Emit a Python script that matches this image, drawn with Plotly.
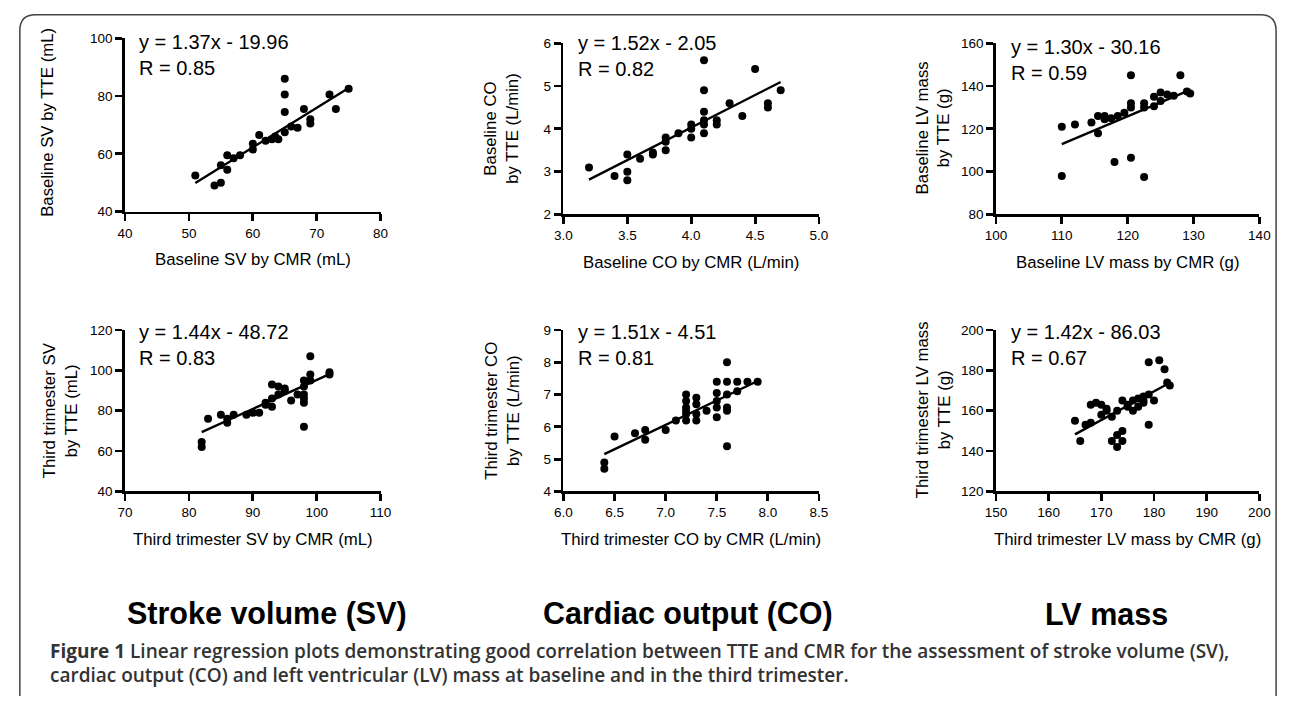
import plotly.graph_objects as go

W, H = 1292, 704

# ---------------- data ----------------
sv_base_cmr = [51, 54, 55, 56, 55, 56, 57, 58, 60, 60, 61, 62, 63, 63.5, 64, 65, 65, 65, 65, 66, 67, 68, 69, 69, 72, 73, 75]
sv_base_tte = [52.5, 49, 50, 59.5, 56, 54.5, 58.5, 59.5, 63.5, 61.5, 66.5, 64.5, 65, 66, 65, 67.5, 74.5, 80.5, 86, 69.5, 69, 75.5, 72, 70.5, 80.5, 75.5, 82.5]

co_base_cmr = [3.2, 3.4, 3.5, 3.5, 3.5, 3.6, 3.7, 3.7, 3.8, 3.8, 3.8, 3.9, 4.0, 4.0, 4.0, 4.1, 4.1, 4.1, 4.1, 4.1, 4.1, 4.2, 4.2, 4.3, 4.4, 4.5, 4.6, 4.6, 4.7]
co_base_tte = [3.1, 2.9, 3.4, 3.0, 2.8, 3.3, 3.4, 3.45, 3.5, 3.7, 3.8, 3.9, 3.8, 4.0, 4.1, 5.6, 4.9, 4.4, 4.2, 4.1, 3.9, 4.2, 4.1, 4.6, 4.3, 5.4, 4.6, 4.5, 4.9]

lv_base_cmr = [110, 110, 112, 114.5, 115.5, 115.5, 116.5, 116.5, 117.5, 118.5, 118, 119.5, 120.5, 120.5, 120.5, 120.5, 122.5, 122.5, 122.5, 124, 124, 125, 125, 126, 127, 128, 129, 129.5]
lv_base_tte = [121, 98, 122, 123, 126, 118, 126, 124.5, 125, 126, 104.5, 127.5, 145, 132, 130, 106.5, 132, 130, 97.5, 130.5, 135, 137, 133, 136, 135.5, 145, 137.5, 136.5]

sv_t3_cmr = [82, 82, 83, 85, 86, 86, 87, 89, 90, 91, 92, 92, 93, 93, 93, 94, 94, 95, 95, 96, 97, 98, 98, 98, 98, 98, 98, 99, 99, 99, 102, 102]
sv_t3_tte = [62, 64.5, 76, 78, 76, 74, 78, 78, 79, 79, 83, 84, 82, 86, 93, 88, 92, 91, 90, 85, 88, 72, 84, 86, 88, 92, 95, 95, 98, 107, 98, 99]

co_t3_cmr = [6.4, 6.4, 6.5, 6.7, 6.8, 6.8, 7.0, 7.1, 7.2, 7.2, 7.2, 7.2, 7.2, 7.2, 7.3, 7.3, 7.3, 7.3, 7.4, 7.5, 7.5, 7.5, 7.5, 7.5, 7.6, 7.6, 7.6, 7.6, 7.6, 7.6, 7.7, 7.7, 7.8, 7.9]
co_t3_tte = [4.7, 4.9, 5.7, 5.8, 5.6, 5.9, 5.9, 6.2, 6.2, 6.4, 6.5, 6.6, 6.8, 7.0, 6.2, 6.4, 6.7, 6.9, 6.5, 6.3, 6.6, 6.8, 7.05, 7.4, 5.4, 6.5, 6.6, 7.0, 7.4, 8.0, 7.1, 7.4, 7.4, 7.4]

lv_t3_cmr = [165, 166, 167, 168, 168, 169, 170, 170, 171, 171, 172, 172, 173, 173, 173, 174, 174, 174, 175, 175, 176, 176, 177, 177, 178, 178, 178, 179, 179, 180, 179, 181, 182, 182.5, 183]
lv_t3_tte = [155, 145, 153, 154, 163, 164, 163, 158, 160, 161, 145, 157, 142, 148, 160, 145, 150, 165, 162, 163, 160, 165, 162, 166, 164, 165, 167, 153, 168, 165, 184, 185, 180.5, 174, 172.5]

slopes = [1.37, 1.52, 1.30, 1.44, 1.51, 1.42]
intercepts = [-19.96, -2.05, -30.16, -48.72, -4.51, -86.03]
r_values = ["0.85", "0.82", "0.59", "0.83", "0.81", "0.67"]

x_titles = ["Baseline SV by CMR (mL)", "Baseline CO by CMR (L/min)", "Baseline LV mass by CMR (g)",
            "Third trimester SV by CMR (mL)", "Third trimester CO by CMR (L/min)", "Third trimester LV mass by CMR (g)"]
y_titles = ["Baseline SV by TTE (mL)", "Baseline CO<br>by TTE (L/min)", "Baseline LV mass<br>by TTE (g)",
            "Third trimester SV<br>by TTE (mL)", "Third trimester CO<br>by TTE (L/min)", "Third trimester LV mass<br>by TTE (g)"]

x_ticks = [[40, 50, 60, 70, 80], [3.0, 3.5, 4.0, 4.5, 5.0], [100, 110, 120, 130, 140],
           [70, 80, 90, 100, 110], [6.0, 6.5, 7.0, 7.5, 8.0, 8.5], [150, 160, 170, 180, 190, 200]]
y_ticks = [[40, 60, 80, 100], [2, 3, 4, 5, 6], [80, 100, 120, 140, 160],
           [40, 60, 80, 100, 120], [4, 5, 6, 7, 8, 9], [120, 140, 160, 180, 200]]
x_fmt = ["d", ".1f", "d", "d", ".1f", "d"]

group_titles = ["Stroke volume (SV)", "Cardiac output (CO)", "LV mass"]
caption_1 = "<b>Figure 1</b> Linear regression plots demonstrating good correlation between TTE and CMR for the assessment of stroke volume (SV),"
caption_2 = "cardiac output (CO) and left ventricular (LV) mass at baseline and in the third trimester."

xs = [sv_base_cmr, co_base_cmr, lv_base_cmr, sv_t3_cmr, co_t3_cmr, lv_t3_cmr]
ys = [sv_base_tte, co_base_tte, lv_base_tte, sv_t3_tte, co_t3_tte, lv_t3_tte]

# ---------------- layout geometry (pixels) ----------------
# (x_left, x_right, y_top, y_bottom)
boxes = [(116, 376, 32, 209), (562, 822, 37, 212), (1002, 1270, 37, 212),
         (116, 376, 330, 495), (562, 822, 330, 495), (1002, 1270, 330, 495)]
ytitle_pos = [(37, 118), (499, 124), (938, 124), (50, 412), (500, 412), (938, 412)]
eq_pos = [(128, 49), (575, 50), (1015, 54), (128, 345), (575, 345), (1015, 345)]
group_x = [260, 689, 1114]

def px(x):
    return x / W

def py(y):
    return 1 - y / H

FONT = "Liberation Sans, Arial, sans-serif"
fig = go.Figure()
annotations = []

for i in range(6):
    n = "" if i == 0 else str(i + 1)
    x0, x1, yt, yb = boxes[i]
    xt, yv = x_ticks[i], y_ticks[i]
    fig.add_trace(go.Scatter(x=xs[i], y=ys[i], mode="markers", xaxis="x" + n, yaxis="y" + n,
                             marker=dict(color="black", size=8), showlegend=False, hoverinfo="skip"))
    lo, hi = min(xs[i]), max(xs[i])
    fig.add_trace(go.Scatter(x=[lo, hi], y=[slopes[i] * lo + intercepts[i], slopes[i] * hi + intercepts[i]],
                             mode="lines", xaxis="x" + n, yaxis="y" + n,
                             line=dict(color="black", width=2.4), showlegend=False, hoverinfo="skip"))
    axcommon = dict(showline=True, linecolor="black", linewidth=2.8, ticks="outside", ticklen=7,
                    tickwidth=2.8, tickcolor="black", showgrid=False, zeroline=False,
                    tickfont=dict(family=FONT, size=13.5, color="black"), fixedrange=True)
    fig.layout["xaxis" + n] = dict(domain=[px(x0), px(x1)], range=[xt[0], xt[-1]], tickvals=xt,
                                   tickformat=x_fmt[i], anchor="y" + n, **axcommon)
    fig.layout["yaxis" + n] = dict(domain=[py(yb), py(yt)], range=[yv[0], yv[-1]], tickvals=yv,
                                   anchor="x" + n, **axcommon)
    # axis titles
    annotations.append(dict(text=x_titles[i], x=px((x0 + x1) / 2), y=py(yb + 49), xref="paper", yref="paper",
                            showarrow=False, font=dict(family=FONT, size=16.8, color="black"),
                            xanchor="center", yanchor="middle"))
    tx, ty = ytitle_pos[i]
    annotations.append(dict(text=y_titles[i], x=px(tx), y=py(ty), xref="paper", yref="paper",
                            showarrow=False, textangle=-90, font=dict(family=FONT, size=16.8, color="black"),
                            xanchor="center", yanchor="middle"))
    ex, ey = eq_pos[i]
    sign = "-" if intercepts[i] < 0 else "+"
    eq = f"y = {slopes[i]:.2f}x {sign} {abs(intercepts[i]):.2f}<br>R = {r_values[i]}"
    annotations.append(dict(text=eq, x=px(ex), y=py(ey), xref="paper", yref="paper", showarrow=False,
                            align="left", xanchor="left", yanchor="middle",
                            font=dict(family=FONT, size=20, color="black")))

for t, cx in zip(group_titles, group_x):
    annotations.append(dict(text="<b>" + t + "</b>", x=px(cx), y=py(620), xref="paper", yref="paper",
                            showarrow=False, xanchor="center", yanchor="middle",
                            font=dict(family=FONT, size=30.5, color="black")))

CAP_FONT = dict(family="Open Sans, Liberation Sans, sans-serif", size=19, color="#333333", weight=600)
annotations.append(dict(text=caption_1, x=px(38), y=py(658), xref="paper", yref="paper", showarrow=False,
                        xanchor="left", yanchor="middle", font=CAP_FONT))
annotations.append(dict(text=caption_2, x=px(38), y=py(683), xref="paper", yref="paper", showarrow=False,
                        xanchor="left", yanchor="middle", font=CAP_FONT))

# rounded frame (open at the bottom)
def P(x, y):
    return f"{px(x):.5f},{py(y):.5f}"

frame = (f"M {P(9, 704)} L {P(9, 24)} Q {P(9, 8)} {P(25, 8)} L {P(1271, 8)} "
         f"Q {P(1287, 8)} {P(1287, 24)} L {P(1287, 704)}")

fig.update_layout(width=W, height=H, margin=dict(l=0, r=0, t=0, b=0), paper_bgcolor="white",
                  plot_bgcolor="white", annotations=annotations, showlegend=False,
                  shapes=[dict(type="path", path=frame, xref="paper", yref="paper",
                               line=dict(color="#444444", width=1.5))])

fig.write_html("out.html", config={"displayModeBar": False, "staticPlot": True},
               post_script="document.body.style.margin='0';document.body.style.overflow='hidden';")
